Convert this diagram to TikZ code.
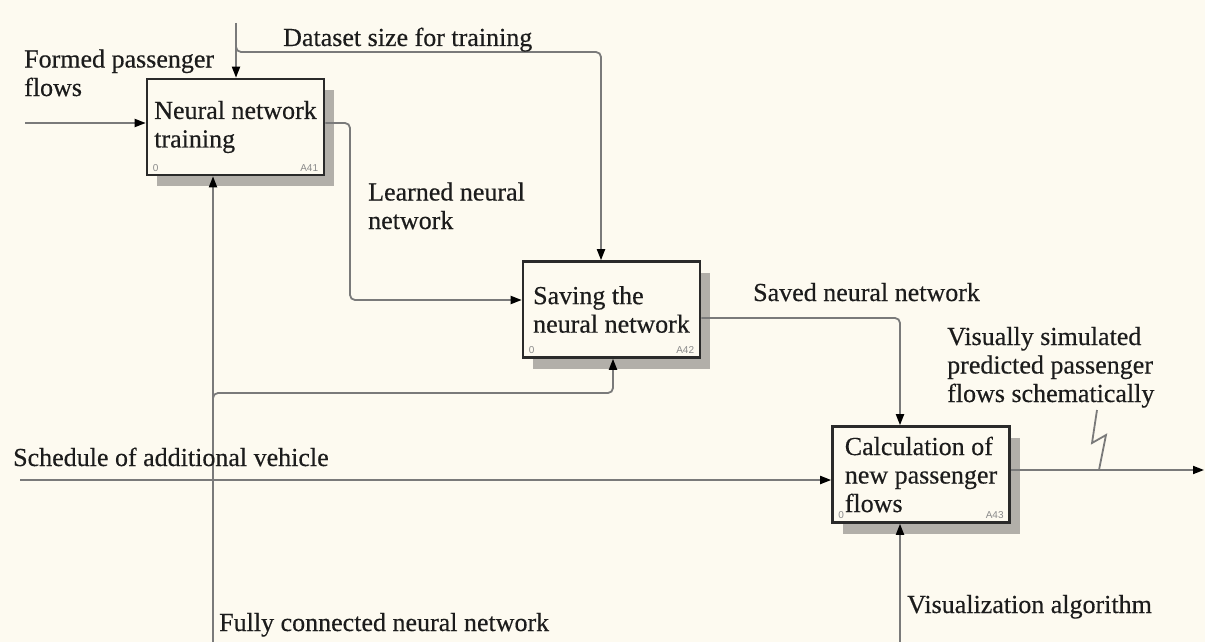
\documentclass[tikz,border=0pt]{standalone}
\usepackage{fontspec}
\setmainfont{Liberation Serif}[FakeBold=0.4]
\newfontfamily\smallsans{Liberation Sans}
\usetikzlibrary{arrows.meta,shadows,calc}
\definecolor{bg}{HTML}{FDFAF0}
\definecolor{wire}{HTML}{7A7A7A}
\definecolor{shade}{HTML}{B2AFA9}
\definecolor{ink}{HTML}{1C1C1C}
\definecolor{boxline}{HTML}{2A2A2A}
\definecolor{numgray}{HTML}{8A8A8A}
\begin{document}
\begin{tikzpicture}[x=1pt,y=-1pt,
  font=\fontsize{26}{28.5}\selectfont, text=ink,
  actbox/.style={draw=boxline, line width=2.6pt, fill=bg, minimum width=177pt, minimum height=96pt,
    align=left, inner sep=0pt,
    drop shadow={shadow xshift=10pt, shadow yshift=-11pt, fill=shade, opacity=1}},
  conn/.style={draw=wire, line width=1.8pt, rounded corners=5pt},
  tip/.style={-{Triangle[length=11pt,width=8pt,color=black]}},
  lbl/.style={anchor=base west, inner sep=0pt, align=left},
  num/.style={font=\smallsans\fontsize{10}{12}\selectfont, text=numgray, inner sep=0pt}
]
\fill[bg] (0,0) rectangle (1205,642);
\useasboundingbox (0,0) rectangle (1205,642);

% activity boxes
\node[actbox] (A41) at (235.5,127) {Neural network\\training};
\node[actbox] (A42) at (611.5,309.5) {Saving the\\neural network};
\node[actbox] (A43) at (921,474.5) {Calculation of\\new passenger\\flows};

\node[num, anchor=south west] (n41a) at ($(A41.south west)+(7,-5)$) {0};
\node[num, anchor=south east] (n41b) at ($(A41.south east)+(-7,-5)$) {A41};
\node[num, anchor=south west] (n42a) at ($(A42.south west)+(7,-5)$) {0};
\node[num, anchor=south east] (n42b) at ($(A42.south east)+(-7,-5)$) {A42};
\node[num, anchor=south west] (n43a) at ($(A43.south west)+(7,-5)$) {0};
\node[num, anchor=south east] (n43b) at ($(A43.south east)+(-7,-5)$) {A43};

% coordinates
\coordinate (dtop) at (236,23);
\coordinate (dsplit) at (236,42);
\coordinate (dturn) at (601,52);
\coordinate (fin) at (25,123);
\coordinate (l1) at (350,123);
\coordinate (l2) at (350,300);
\coordinate (fbot) at (213,642);
\coordinate (fsplit) at (213,405);
\coordinate (fturn) at (613,393);
\coordinate (sin) at (20,480);
\coordinate (s1) at (900,318);
\coordinate (out) at (1204,470);
\coordinate (vbot) at (900,642);
\coordinate (z1) at (1097,410);
\coordinate (z2) at (1092,443);
\coordinate (z3) at (1106,435);
\coordinate (z4) at (1099,470);

% connectors
\draw[conn,tip] (dtop) -- (dtop |- A41.north);
\draw[conn,tip] (dsplit) |- (dturn) -- (dturn |- A42.north);
\draw[conn,tip] (fin) -- (fin -| A41.west);
\draw[conn,tip] (A41.east |- l1) -- (l1) -- (l2) -- (l2 -| A42.west);
\draw[conn,tip] (fbot) -- (fbot |- A41.south);
\draw[conn,tip] (fsplit) |- (fturn) -- (fturn |- A42.south);
\draw[conn,tip] (sin) -- (sin -| A43.west);
\draw[conn,tip] (A42.east |- s1) -- (s1) -- (s1 |- A43.north);
\draw[conn,tip] (A43.east |- out) -- (out);
\draw[conn,rounded corners=0pt] (z1) -- (z2) -- (z3) -- (z4);
\draw[conn,tip] (vbot) -- (vbot |- A43.south);

% labels (base anchor = baseline of the last line)
\node[lbl] (tdata) at (283,46) {Dataset size for training};
\node[lbl] (tform) at (24,96) {Formed passenger\\flows};
\node[lbl] (tlearn) at (368,229) {Learned neural\\network};
\node[lbl] (tsaved) at (753,301) {Saved neural network};
\node[lbl] (tvis) at (947,402) {Visually simulated\\predicted passenger\\flows schematically};
\node[lbl] (tsched) at (13,466) {Schedule of additional vehicle};
\node[lbl] (tfully) at (219,631) {Fully connected neural network};
\node[lbl] (talg) at (907,613) {Visualization algorithm};
\end{tikzpicture}
\end{document}
